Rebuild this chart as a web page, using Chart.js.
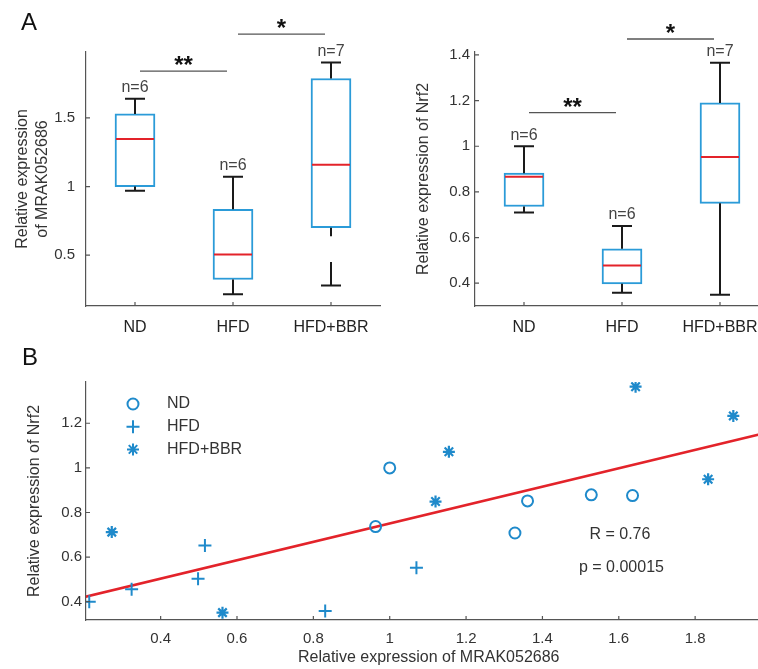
<!DOCTYPE html>
<html>
<head>
<meta charset="utf-8">
<script src="https://cdn.jsdelivr.net/npm/chart.js@4/dist/chart.umd.min.js"></script>
<style>
    html, body { margin: 0; padding: 0; background: #fff; width: 758px; height: 669px; overflow: hidden; }
    body { position: relative; }
    canvas { position: absolute; }
    #mrakChart { left: 0; top: 0; }
    #nrf2Chart { left: 380px; top: 0; }
    #corrChart { left: 0; top: 335px; }
</style>
</head>
<body>
<canvas id="mrakChart" width="385" height="340"></canvas>
<canvas id="nrf2Chart" width="395" height="340"></canvas>
<canvas id="corrChart" width="780" height="334"></canvas>
<script>
// групи та кількість зразків
const groups = ["ND", "HFD", "HFD+BBR"];
const groupN = [6, 6, 7];
const sigLabels = ["**", "*"]; // ND vs HFD, HFD vs HFD+BBR

// MRAK052686: min, q1, медіана, q3, max
const mrakMin = [0.97, 0.215, 0.28];
const mrakQ1 = [1.0, 0.323, 0.70];
const mrakMedian = [1.347, 0.505, 1.159];
const mrakQ3 = [1.529, 0.834, 1.787];
const mrakMax = [1.639, 1.072, 1.904];
const mrakGap = [null, null, [0.638, 0.45]];
const mrakTicks = [0.5, 1, 1.5];
const mrakSigLevel = [1.84, 2.11];

// Nrf2
const nrf2Min = [0.71, 0.358, 0.349];
const nrf2Q1 = [0.736, 0.397, 0.75];
const nrf2Median = [0.866, 0.478, 0.953];
const nrf2Q3 = [0.882, 0.551, 1.19];
const nrf2Max = [1.0, 0.651, 1.366];
const nrf2Gap = [null, null, null];
const nrf2Ticks = [0.4, 0.6, 0.8, 1, 1.2, 1.4];
const nrf2SigLevel = [1.147, 1.47];

// кореляція
const ndX = [0.963, 1.0, 1.328, 1.361, 1.528, 1.636];
const ndY = [0.737, 1.0, 0.708, 0.852, 0.879, 0.876];
const hfdX = [0.213, 0.324, 0.498, 0.516, 0.831, 1.07];
const hfdY = [0.40, 0.456, 0.503, 0.652, 0.358, 0.552];
const bbrX = [0.272, 0.562, 1.12, 1.155, 1.644, 1.834, 1.90];
const bbrY = [0.712, 0.351, 0.849, 1.072, 1.364, 0.949, 1.233];
const fitX = [0.2, 2.0];
const fitY = [0.421, 1.163];
const corrXTicks = [0.4, 0.6, 0.8, 1, 1.2, 1.4, 1.6, 1.8];
const corrYTicks = [0.4, 0.6, 0.8, 1, 1.2];
const statTexts = ["R = 0.76", "p = 0.00015"];

const FONT = "'Liberation Sans', Arial, sans-serif";
const AXIS = "#555";
const BLUE_BOX = "#2B9BD8";
const BLUE = "#1F8ACB";
const RED = "#E3232A";

const toPoints = (xs, ys) => xs.map((x, i) => ({x: x, y: ys[i]}));

// маленькі риски всередину, як у MATLAB
const inwardTicks = {
    id: "inwardTicks",
    afterDraw(chart) {
        const ctx = chart.ctx;
        const a = chart.chartArea;
        const xs = chart.scales.x, ys = chart.scales.y;
        ctx.save();
        ctx.strokeStyle = AXIS;
        ctx.lineWidth = 1.2;
        ctx.beginPath();
        xs.ticks.forEach((t, i) => {
            const px = xs.getPixelForTick(i);
            ctx.moveTo(px, a.bottom);
            ctx.lineTo(px, a.bottom - 4);
        });
        ys.ticks.forEach((t, i) => {
            const py = ys.getPixelForTick(i);
            ctx.moveTo(a.left, py);
            ctx.lineTo(a.left + 4, py);
        });
        ctx.stroke();
        ctx.restore();
    }
};

const panelLetter = {
    id: "panelLetter",
    afterDraw(chart, args, opts) {
        if (!opts.text) return;
        const ctx = chart.ctx;
        ctx.save();
        ctx.font = "24px " + FONT;
        ctx.fillStyle = "#111";
        ctx.textAlign = "left";
        ctx.textBaseline = "alphabetic";
        ctx.fillText(opts.text, opts.x, opts.y);
        ctx.restore();
    }
};

// вуса, медіани, n=, лінії значущості
const boxExtras = {
    id: "boxExtras",
    afterDatasetsDraw(chart, args, opts) {
        const s = opts.stats;
        if (!s) return;
        const ctx = chart.ctx;
        const xs = chart.scales.x, ys = chart.scales.y;
        const py = v => ys.getPixelForValue(v);
        ctx.save();
        groups.forEach((g, i) => {
            const cx = xs.getPixelForValue(i);
            const yTop = py(s.max[i]);
            const yLow = py(s.min[i]);
            ctx.strokeStyle = "#1a1a1a";
            ctx.lineWidth = 2;
            ctx.beginPath();
            ctx.moveTo(cx, py(s.q3[i]));
            ctx.lineTo(cx, yTop);
            ctx.moveTo(cx - 10, yTop);
            ctx.lineTo(cx + 10, yTop);
            const gap = s.gap[i];
            if (gap) {
                ctx.moveTo(cx, py(s.q1[i]));
                ctx.lineTo(cx, py(gap[0]));
                ctx.moveTo(cx, py(gap[1]));
                ctx.lineTo(cx, yLow);
            } else {
                ctx.moveTo(cx, py(s.q1[i]));
                ctx.lineTo(cx, yLow);
            }
            ctx.moveTo(cx - 10, yLow);
            ctx.lineTo(cx + 10, yLow);
            ctx.stroke();

            ctx.strokeStyle = RED;
            ctx.lineWidth = 2;
            ctx.beginPath();
            ctx.moveTo(cx - 19, py(s.median[i]));
            ctx.lineTo(cx + 19, py(s.median[i]));
            ctx.stroke();

            ctx.fillStyle = "#444";
            ctx.font = "16px " + FONT;
            ctx.textAlign = "center";
            ctx.textBaseline = "bottom";
            ctx.fillText("n=" + groupN[i], cx, yTop - 3);
        });

        sigLabels.forEach((lab, k) => {
            const x1 = xs.getPixelForValue(k) + 5;
            const x2 = xs.getPixelForValue(k + 1) - 6;
            const yy = py(s.sig[k]);
            ctx.strokeStyle = AXIS;
            ctx.lineWidth = 1.3;
            ctx.beginPath();
            ctx.moveTo(x1, yy);
            ctx.lineTo(x2, yy);
            ctx.stroke();
            ctx.fillStyle = "#111";
            ctx.font = "bold 24px " + FONT;
            ctx.textAlign = "center";
            ctx.textBaseline = "alphabetic";
            ctx.fillText(lab, (x1 + x2) / 2, yy + 2);
        });
        ctx.restore();
    }
};

function makeBoxChart(canvasId, o) {
    const ctx = document.getElementById(canvasId).getContext("2d");
    return new Chart(ctx, {
        type: "bar",
        data: {
            labels: groups,
            datasets: [{
                data: groups.map((g, i) => [o.q1[i], o.q3[i]]),
                backgroundColor: "#fff",
                borderColor: BLUE_BOX,
                borderWidth: 2,
                borderSkipped: false,
                barThickness: 40
            }]
        },
        options: {
            responsive: false,
            animation: false,
            layout: {padding: {top: 52, right: o.padRight, left: 0, bottom: 0}},
            plugins: {
                legend: {display: false},
                tooltip: {enabled: false},
                boxExtras: {stats: o},
                panelLetter: {text: o.letter, x: 21, y: 30}
            },
            scales: {
                x: {
                    type: "category",
                    offset: true,
                    grid: {display: false, drawTicks: false},
                    border: {display: true, color: AXIS, width: 1.2},
                    ticks: {color: "#222", font: {size: 16, family: FONT}, padding: 12, maxRotation: 0, autoSkip: false},
                    afterFit: s => { s.height = 34; }
                },
                y: {
                    min: o.min0,
                    max: o.max0,
                    beginAtZero: false,
                    afterBuildTicks: s => { s.ticks = o.ticks.map(v => ({value: v})); },
                    grid: {display: false, drawTicks: false},
                    border: {display: true, color: AXIS, width: 1.2},
                    ticks: {color: "#333", font: {size: 15, family: FONT}, padding: o.tickPad, callback: v => String(v)},
                    title: {display: true, text: o.title, color: "#333", font: {size: 16, family: FONT, lineHeight: 1.25}, padding: {top: o.titlePad, bottom: 0}},
                    afterFit: s => { s.width = o.axisWidth; }
                }
            }
        },
        plugins: [inwardTicks, boxExtras, panelLetter]
    });
}

makeBoxChart("mrakChart", {
    min: mrakMin, q1: mrakQ1, median: mrakMedian, q3: mrakQ3, max: mrakMax, gap: mrakGap,
    sig: mrakSigLevel, ticks: mrakTicks, min0: 0.13, max0: 1.98,
    title: ["Relative expression", "of MRAK052686"], titlePad: 13, tickPad: 11,
    axisWidth: 86, padRight: 5, letter: "A"
});

makeBoxChart("nrf2Chart", {
    min: nrf2Min, q1: nrf2Q1, median: nrf2Median, q3: nrf2Q3, max: nrf2Max, gap: nrf2Gap,
    sig: nrf2SigLevel, ticks: nrf2Ticks, min0: 0.3, max0: 1.413,
    title: "Relative expression of Nrf2", titlePad: 34, tickPad: 5,
    axisWidth: 95, padRight: 6, letter: ""
});

// легенда та статистика для панелі B
const corrExtras = {
    id: "corrExtras",
    afterDraw(chart) {
        const ctx = chart.ctx;
        const a = chart.chartArea;
        const xs = chart.scales.x, ys = chart.scales.y;
        const styles = ["circle", "cross", "star"];
        const radii = [5.5, 6.5, 6];
        ctx.save();
        groups.forEach((g, i) => {
            const ly = a.top + 22 + i * 22.7;
            ctx.strokeStyle = BLUE;
            ctx.fillStyle = "rgba(0,0,0,0)";
            ctx.lineWidth = 2;
            Chart.helpers.drawPoint(ctx, {pointStyle: styles[i], radius: radii[i], borderWidth: 2, rotation: 0}, a.left + 47, ly);
            ctx.fillStyle = "#333";
            ctx.font = "16px " + FONT;
            ctx.textAlign = "left";
            ctx.textBaseline = "middle";
            ctx.fillText(g, a.left + 81, ly);
        });
        ctx.fillStyle = "#333";
        ctx.font = "16px " + FONT;
        ctx.textAlign = "center";
        ctx.textBaseline = "middle";
        ctx.fillText(statTexts[0], xs.getPixelForValue(1.603), ys.getPixelForValue(0.70));
        ctx.fillText(statTexts[1], xs.getPixelForValue(1.607), ys.getPixelForValue(0.551));
        ctx.restore();
    }
};

new Chart(document.getElementById("corrChart").getContext("2d"), {
    type: "scatter",
    data: {
        datasets: [
            {label: "ND", data: toPoints(ndX, ndY), pointStyle: "circle", pointRadius: 5.5, borderColor: BLUE, backgroundColor: "rgba(0,0,0,0)", borderWidth: 2},
            {label: "HFD", data: toPoints(hfdX, hfdY), pointStyle: "cross", pointRadius: 6.5, borderColor: BLUE, backgroundColor: BLUE, borderWidth: 2},
            {label: "HFD+BBR", data: toPoints(bbrX, bbrY), pointStyle: "star", pointRadius: 6, borderColor: BLUE, backgroundColor: BLUE, borderWidth: 2.2},
            {type: "line", label: "fit", data: toPoints(fitX, fitY), borderColor: RED, borderWidth: 2.5, pointRadius: 0, fill: false}
        ]
    },
    options: {
        responsive: false,
        animation: false,
        layout: {padding: {top: 47, right: 8, left: 0, bottom: 0}},
        plugins: {
            legend: {display: false},
            tooltip: {enabled: false},
            panelLetter: {text: "B", x: 22, y: 30}
        },
        scales: {
            x: {
                type: "linear",
                min: 0.2045,
                max: 2.0,
                afterBuildTicks: s => { s.ticks = corrXTicks.map(v => ({value: v})); },
                grid: {display: false, drawTicks: false},
                border: {display: true, color: AXIS, width: 1.2},
                ticks: {color: "#333", font: {size: 15, family: FONT}, padding: 10, maxRotation: 0, autoSkip: false, callback: v => String(v)},
                title: {display: true, text: "Relative expression of MRAK052686", color: "#333", font: {size: 16, family: FONT, lineHeight: 1.25}, padding: {top: 0, bottom: 1}},
                afterFit: s => { s.height = 49; }
            },
            y: {
                type: "linear",
                min: 0.318,
                max: 1.385,
                afterBuildTicks: s => { s.ticks = corrYTicks.map(v => ({value: v})); },
                grid: {display: false, drawTicks: false},
                border: {display: true, color: AXIS, width: 1.2},
                ticks: {color: "#333", font: {size: 15, family: FONT}, padding: 4, callback: v => String(v)},
                title: {display: true, text: "Relative expression of Nrf2", color: "#333", font: {size: 16, family: FONT, lineHeight: 1.25}, padding: {top: 25, bottom: 0}},
                afterFit: s => { s.width = 86; }
            }
        }
    },
    plugins: [inwardTicks, corrExtras, panelLetter]
});
</script>
</body>
</html>
